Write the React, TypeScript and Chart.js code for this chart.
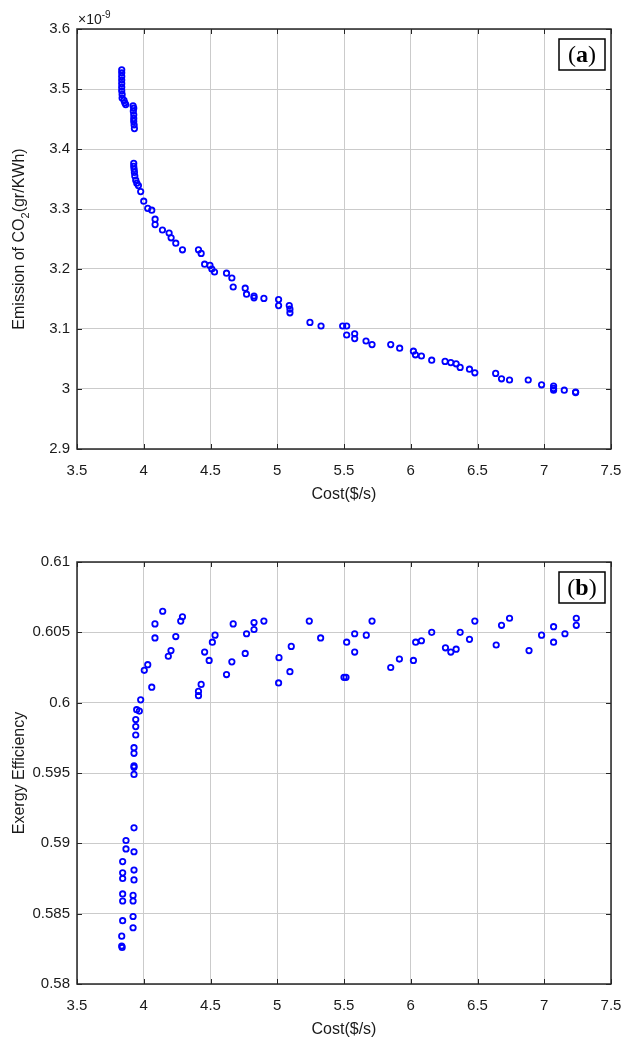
import React, { useEffect, useRef } from "react";
import { Chart, registerables } from "chart.js";

Chart.register(...registerables);

// ---------- Data (a): cost vs emission of CO2 (values in units of 1e-9) ----------
const costA: number[] = [
  3.835, 3.835, 3.835, 3.835, 3.835, 3.835, 3.835, 3.838, 3.838, 3.852, 3.858, 3.865,
  3.92, 3.925, 3.922, 3.925, 3.925, 3.925, 3.928, 3.93,
  3.925, 3.925, 3.928, 3.93, 3.933, 3.94, 3.948, 3.96, 3.977,
  4.0, 4.03, 4.06, 4.085, 4.085, 4.14, 4.19, 4.205, 4.24, 4.29, 4.41, 4.43,
  4.456, 4.496, 4.51, 4.53, 4.62, 4.66, 4.67, 4.76, 4.77, 4.826, 4.826, 4.9,
  5.01, 5.01, 5.09, 5.095, 5.095, 5.245, 5.328, 5.49, 5.52, 5.52, 5.58, 5.58,
  5.665, 5.71, 5.85, 5.917, 6.02, 6.035, 6.08, 6.157, 6.257, 6.3, 6.34, 6.37,
  6.44, 6.48, 6.636, 6.68, 6.74, 6.88, 6.98, 7.07, 7.07, 7.07, 7.15, 7.235, 7.235,
];
const emissionA: number[] = [
  3.532, 3.527, 3.521, 3.515, 3.509, 3.503, 3.497, 3.491, 3.485, 3.481, 3.477, 3.474,
  3.472, 3.468, 3.463, 3.457, 3.451, 3.446, 3.44, 3.434,
  3.376, 3.371, 3.366, 3.361, 3.355, 3.348, 3.343, 3.339, 3.329,
  3.313, 3.301, 3.298, 3.283, 3.274, 3.265, 3.26, 3.252, 3.243, 3.232, 3.232, 3.226,
  3.208, 3.206, 3.2, 3.195, 3.193, 3.185, 3.17, 3.168, 3.158, 3.155, 3.152, 3.151,
  3.149, 3.139, 3.139, 3.133, 3.127, 3.111, 3.105, 3.105, 3.105, 3.09, 3.092, 3.084,
  3.08, 3.074, 3.074, 3.068, 3.063, 3.057, 3.055, 3.048, 3.046, 3.044, 3.042, 3.036,
  3.033, 3.027, 3.026, 3.017, 3.015, 3.015, 3.007, 3.005, 3.001, 2.998, 2.998, 2.995, 2.994,
];

// ---------- Data (b): cost vs exergy efficiency ----------
const costB: number[] = [
  3.842, 3.842, 3.842, 3.842, 3.842, 3.842, 3.835, 3.835, 3.838, 3.867, 3.867,
  3.927, 3.927, 3.927, 3.927, 3.92, 3.92, 3.92, 3.92,
  3.927, 3.927, 3.927, 3.927, 3.927, 3.94, 3.94, 3.94, 3.947, 3.967, 3.977,
  4.004, 4.03, 4.06, 4.084, 4.084, 4.142, 4.184, 4.204, 4.24, 4.277, 4.29,
  4.41, 4.41, 4.43, 4.456, 4.49, 4.514, 4.534, 4.62, 4.66, 4.67, 4.76, 4.77,
  4.826, 4.826, 4.9, 5.01, 5.013, 5.095, 5.105, 5.24, 5.325, 5.5, 5.515, 5.52,
  5.58, 5.58, 5.667, 5.71, 5.85, 5.915, 6.02, 6.037, 6.08, 6.157, 6.26, 6.3,
  6.34, 6.37, 6.44, 6.48, 6.64, 6.68, 6.74, 6.886, 6.98, 7.07, 7.07, 7.155, 7.24, 7.24,
];
const exergyB: number[] = [
  0.5887, 0.5879, 0.5875, 0.5864, 0.5859, 0.5845, 0.5834, 0.5827, 0.5826, 0.5902, 0.5896,
  0.5911, 0.5894, 0.5881, 0.5874, 0.5863, 0.5859, 0.5848, 0.584,
  0.5949, 0.5954, 0.5955, 0.5964, 0.5968, 0.5977, 0.5983, 0.5988, 0.5995, 0.5994, 0.6002,
  0.6023, 0.6027, 0.6011, 0.6056, 0.6046, 0.6065, 0.6033, 0.6037, 0.6047, 0.6058, 0.6061,
  0.6008, 0.6005, 0.6013, 0.6036, 0.603, 0.6043, 0.6048, 0.602, 0.6029, 0.6056, 0.6035, 0.6049,
  0.6057, 0.6052, 0.6058, 0.6014, 0.6032, 0.6022, 0.604, 0.6058, 0.6046, 0.6018, 0.6018, 0.6043,
  0.6049, 0.6036, 0.6048, 0.6058, 0.6025, 0.6031, 0.603, 0.6043, 0.6044, 0.605, 0.6039, 0.6036,
  0.6038, 0.605, 0.6045, 0.6058, 0.6041, 0.6055, 0.606, 0.6037, 0.6048, 0.6054, 0.6043, 0.6049, 0.606, 0.6055,
];

// ---------- Axis settings ----------
const xRange = [3.5, 7.5];
const xStep = 0.5;
const yRangeA = [2.9, 3.6];
const yStepA = 0.1;
const yRangeB = [0.58, 0.61];
const yStepB = 0.005;
const xTitle = "Cost($/s)";
const yTitleA = ["Emission of CO", "2", "(gr/KWh)"];
const yTitleB = "Exergy Efficiency";
const exponentA = "-9";
const panelA = "a";
const panelB = "b";

const FONT = "'Liberation Sans', Arial, Helvetica, sans-serif";
const SERIF = "'Liberation Serif', 'Times New Roman', serif";
const TEXT = "#1a1a1a";
const GRID = "#cbcbcb";
const BLUE = "#0000ff";

const fmt = (v: number) => String(Number(Number(v).toFixed(4)));

function makeDecor(cfg: { letter: string; yTitle: string | string[]; exponent?: string }) {
  return {
    id: "decor",
    afterDraw(chart: any) {
      const ctx: CanvasRenderingContext2D = chart.ctx;
      const { left, right, top, bottom } = chart.chartArea;
      ctx.save();
      // inward tick marks
      ctx.strokeStyle = "#262626";
      ctx.lineWidth = 1;
      const xs = chart.scales.x;
      const ys = chart.scales.y;
      const tl = 5;
      xs.ticks.forEach((t: any) => {
        const px = Math.round(xs.getPixelForValue(t.value)) + 0.5;
        ctx.beginPath();
        ctx.moveTo(px, bottom);
        ctx.lineTo(px, bottom - tl);
        ctx.moveTo(px, top);
        ctx.lineTo(px, top + tl);
        ctx.stroke();
      });
      ys.ticks.forEach((t: any) => {
        const py = Math.round(ys.getPixelForValue(t.value)) + 0.5;
        ctx.beginPath();
        ctx.moveTo(left, py);
        ctx.lineTo(left + tl, py);
        ctx.moveTo(right, py);
        ctx.lineTo(right - tl, py);
        ctx.stroke();
      });
      // box
      ctx.strokeStyle = "#262626";
      ctx.lineWidth = 1.5;
      ctx.strokeRect(left, top, right - left, bottom - top);

      // panel label box
      const bx = right - 52;
      const by = top + 10;
      const bw = 46;
      const bh = 31;
      ctx.fillStyle = "#ffffff";
      ctx.fillRect(bx, by, bw, bh);
      ctx.lineWidth = 1.5;
      ctx.strokeStyle = "#000";
      ctx.strokeRect(bx, by, bw, bh);
      ctx.fillStyle = "#000";
      ctx.textBaseline = "alphabetic";
      ctx.textAlign = "left";
      const fReg = `24px ${SERIF}`;
      const fBold = `bold 24px ${SERIF}`;
      ctx.font = fReg;
      const wp = ctx.measureText("(").width;
      const wq = ctx.measureText(")").width;
      ctx.font = fBold;
      const wl = ctx.measureText(cfg.letter).width;
      const total = wp + wl + wq;
      let tx = bx + (bw - total) / 2;
      const ty = by + 23;
      ctx.font = fReg;
      ctx.fillText("(", tx, ty);
      tx += wp;
      ctx.font = fBold;
      ctx.fillText(cfg.letter, tx, ty);
      tx += wl;
      ctx.font = fReg;
      ctx.fillText(")", tx, ty);

      // x title
      ctx.fillStyle = TEXT;
      ctx.font = `16px ${FONT}`;
      ctx.textAlign = "center";
      ctx.textBaseline = "middle";
      ctx.fillText(xTitle, (left + right) / 2, bottom + 46);

      // y title (rotated)
      ctx.save();
      ctx.translate(20, (top + bottom) / 2);
      ctx.rotate(-Math.PI / 2);
      ctx.textBaseline = "middle";
      if (Array.isArray(cfg.yTitle)) {
        const [a, sub, c] = cfg.yTitle;
        const fMain = `16px ${FONT}`;
        const fSub = `11px ${FONT}`;
        ctx.font = fMain;
        const wa = ctx.measureText(a).width;
        const wc = ctx.measureText(c).width;
        ctx.font = fSub;
        const ws = ctx.measureText(sub).width;
        let x0 = -(wa + ws + wc) / 2;
        ctx.textAlign = "left";
        ctx.font = fMain;
        ctx.fillText(a, x0, 0);
        x0 += wa;
        ctx.font = fSub;
        ctx.fillText(sub, x0, 6);
        x0 += ws;
        ctx.font = fMain;
        ctx.fillText(c, x0, 0);
      } else {
        ctx.font = `16px ${FONT}`;
        ctx.textAlign = "center";
        ctx.fillText(cfg.yTitle, 0, 0);
      }
      ctx.restore();

      // exponent
      if (cfg.exponent) {
        ctx.textAlign = "left";
        ctx.textBaseline = "alphabetic";
        ctx.font = `14px ${FONT}`;
        ctx.fillStyle = TEXT;
        const base = "\u00d710";
        ctx.fillText(base, left + 1, top - 5);
        const wb = ctx.measureText(base).width;
        ctx.font = `10px ${FONT}`;
        ctx.fillText(cfg.exponent, left + 1 + wb, top - 11);
      }
      ctx.restore();
    },
  };
}

function buildConfig(
  xsData: number[],
  ysData: number[],
  yRange: number[],
  yStep: number,
  padding: { top: number; right: number; bottom: number; left: number },
  decor: any
): any {
  const points = xsData.map((x, i) => ({ x, y: ysData[i] }));
  return {
    type: "scatter",
    data: {
      datasets: [
        {
          data: points,
          pointStyle: "circle",
          pointRadius: 2.7,
          pointHoverRadius: 2.7,
          borderWidth: 1.8,
          borderColor: BLUE,
          backgroundColor: "rgba(0,0,0,0)",
          showLine: false,
        },
      ],
    },
    options: {
      responsive: false,
      animation: false,
      events: [],
      layout: { padding },
      plugins: { legend: { display: false }, tooltip: { enabled: false } },
      scales: {
        x: {
          type: "linear",
          min: xRange[0],
          max: xRange[1],
          grid: { color: GRID, lineWidth: 1, drawTicks: false },
          border: { display: false },
          ticks: {
            stepSize: xStep,
            autoSkip: false,
            maxRotation: 0,
            padding: 13,
            color: TEXT,
            font: { family: FONT, size: 15 },
            callback: (v: any) => fmt(v),
          },
          afterFit: (s: any) => {
            s.height = 50;
          },
        },
        y: {
          type: "linear",
          min: yRange[0],
          max: yRange[1],
          grid: { color: GRID, lineWidth: 1, drawTicks: false },
          border: { display: false },
          ticks: {
            stepSize: yStep,
            autoSkip: false,
            padding: 7,
            color: TEXT,
            font: { family: FONT, size: 15 },
            callback: (v: any) => fmt(v),
          },
          afterFit: (s: any) => {
            s.width = 77;
          },
        },
      },
    },
    plugins: [decor],
  };
}

export default function App() {
  const refA = useRef<HTMLCanvasElement | null>(null);
  const refB = useRef<HTMLCanvasElement | null>(null);

  useEffect(() => {
    const a = new Chart(
      refA.current as HTMLCanvasElement,
      buildConfig(
        costA,
        emissionA,
        yRangeA,
        yStepA,
        { top: 29, right: 25, bottom: 21, left: 0 },
        makeDecor({ letter: panelA, yTitle: yTitleA, exponent: exponentA })
      )
    );
    const b = new Chart(
      refB.current as HTMLCanvasElement,
      buildConfig(
        costB,
        exergyB,
        yRangeB,
        yStepB,
        { top: 42, right: 25, bottom: 7, left: 0 },
        makeDecor({ letter: panelB, yTitle: yTitleB })
      )
    );
    return () => {
      a.destroy();
      b.destroy();
    };
  }, []);

  return (
    <div
      style={{
        position: "absolute",
        left: 0,
        top: 0,
        width: 636,
        height: 1041,
        background: "#ffffff",
      }}
    >
      <canvas ref={refA} width={636} height={520} style={{ display: "block", width: 636, height: 520 }} />
      <canvas ref={refB} width={636} height={521} style={{ display: "block", width: 636, height: 521 }} />
    </div>
  );
}
